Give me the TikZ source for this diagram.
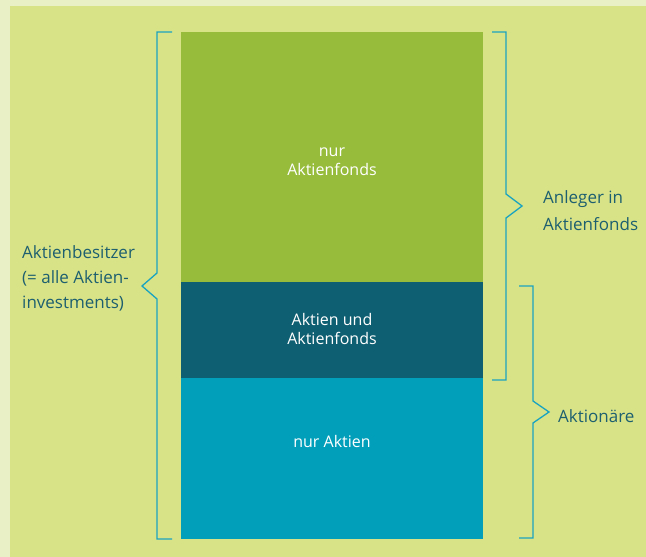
\documentclass[tikz,border=0pt]{standalone}
\usepackage{fontspec}
\setmainfont{Open Sans}
\definecolor{paleband}{HTML}{EAF0C5}
\definecolor{boxbg}{HTML}{D8E388}
\definecolor{fondsgreen}{HTML}{97BC3C}
\definecolor{mixteal}{HTML}{0F5F72}
\definecolor{aktiencyan}{HTML}{029FBB}
\definecolor{bracketblue}{HTML}{1AA3C0}
\definecolor{labelteal}{HTML}{1D5F6F}
\tikzset{
  block/.style={rectangle,inner sep=0pt,minimum width=302pt},
  blocktext/.style={inner sep=0pt,text=white,align=center,font=\fontsize{16}{19}\selectfont},
  label/.style={anchor=west,inner sep=0pt,align=left,text=labelteal,font=\fontsize{17}{25}\selectfont},
  brace/.style={draw=bracketblue,line width=1.3pt}
}
\begin{document}
\begin{tikzpicture}[x=1pt,y=-1pt]
\useasboundingbox (0,0) rectangle (646,557);
\fill[paleband] (0,0) rectangle (646,557);
\fill[boxbg] (10,6) rectangle (646,557);
\node(onlyfonds)[block,fill=fondsgreen,minimum height=250pt] at (332,157){};
\node(both)[block,fill=mixteal,minimum height=96pt] at (332,330){};
\node(onlyshares)[block,fill=aktiencyan,minimum height=161pt] at (332,458.5){};
\node(onlyfondstext)[blocktext] at ([yshift=-5pt]onlyfonds.center){nur\\Aktienfonds};
\node(bothtext)[blocktext] at ([yshift=1pt]both.center){Aktien und\\Aktienfonds};
\node(onlysharestext)[blocktext] at ([yshift=17pt]onlyshares.center){nur Aktien};
\node(owners)[label] at (22,278){Aktienbesitzer\\(= alle Aktien-\\investments)};
\node(investors)[label,font=\fontsize{17}{27}\selectfont] at (543,211){Anleger in\\Aktienfonds};
\node(shareholders)[label] at (558,416){Aktionäre};
\path[brace] (172,32) -- (157,32) -- (157,273) -- (142,286) -- (157,299) -- (157,539) -- (172,539);
\path[brace] (492,32) -- (506,32) -- (506,194) -- (522,206) -- (506,218) -- (506,380) -- (492,380);
\path[brace] (519,286) -- (533,286) -- (533,401) -- (549,412) -- (533,423) -- (533,538) -- (519,538);
\end{tikzpicture}
\end{document}
